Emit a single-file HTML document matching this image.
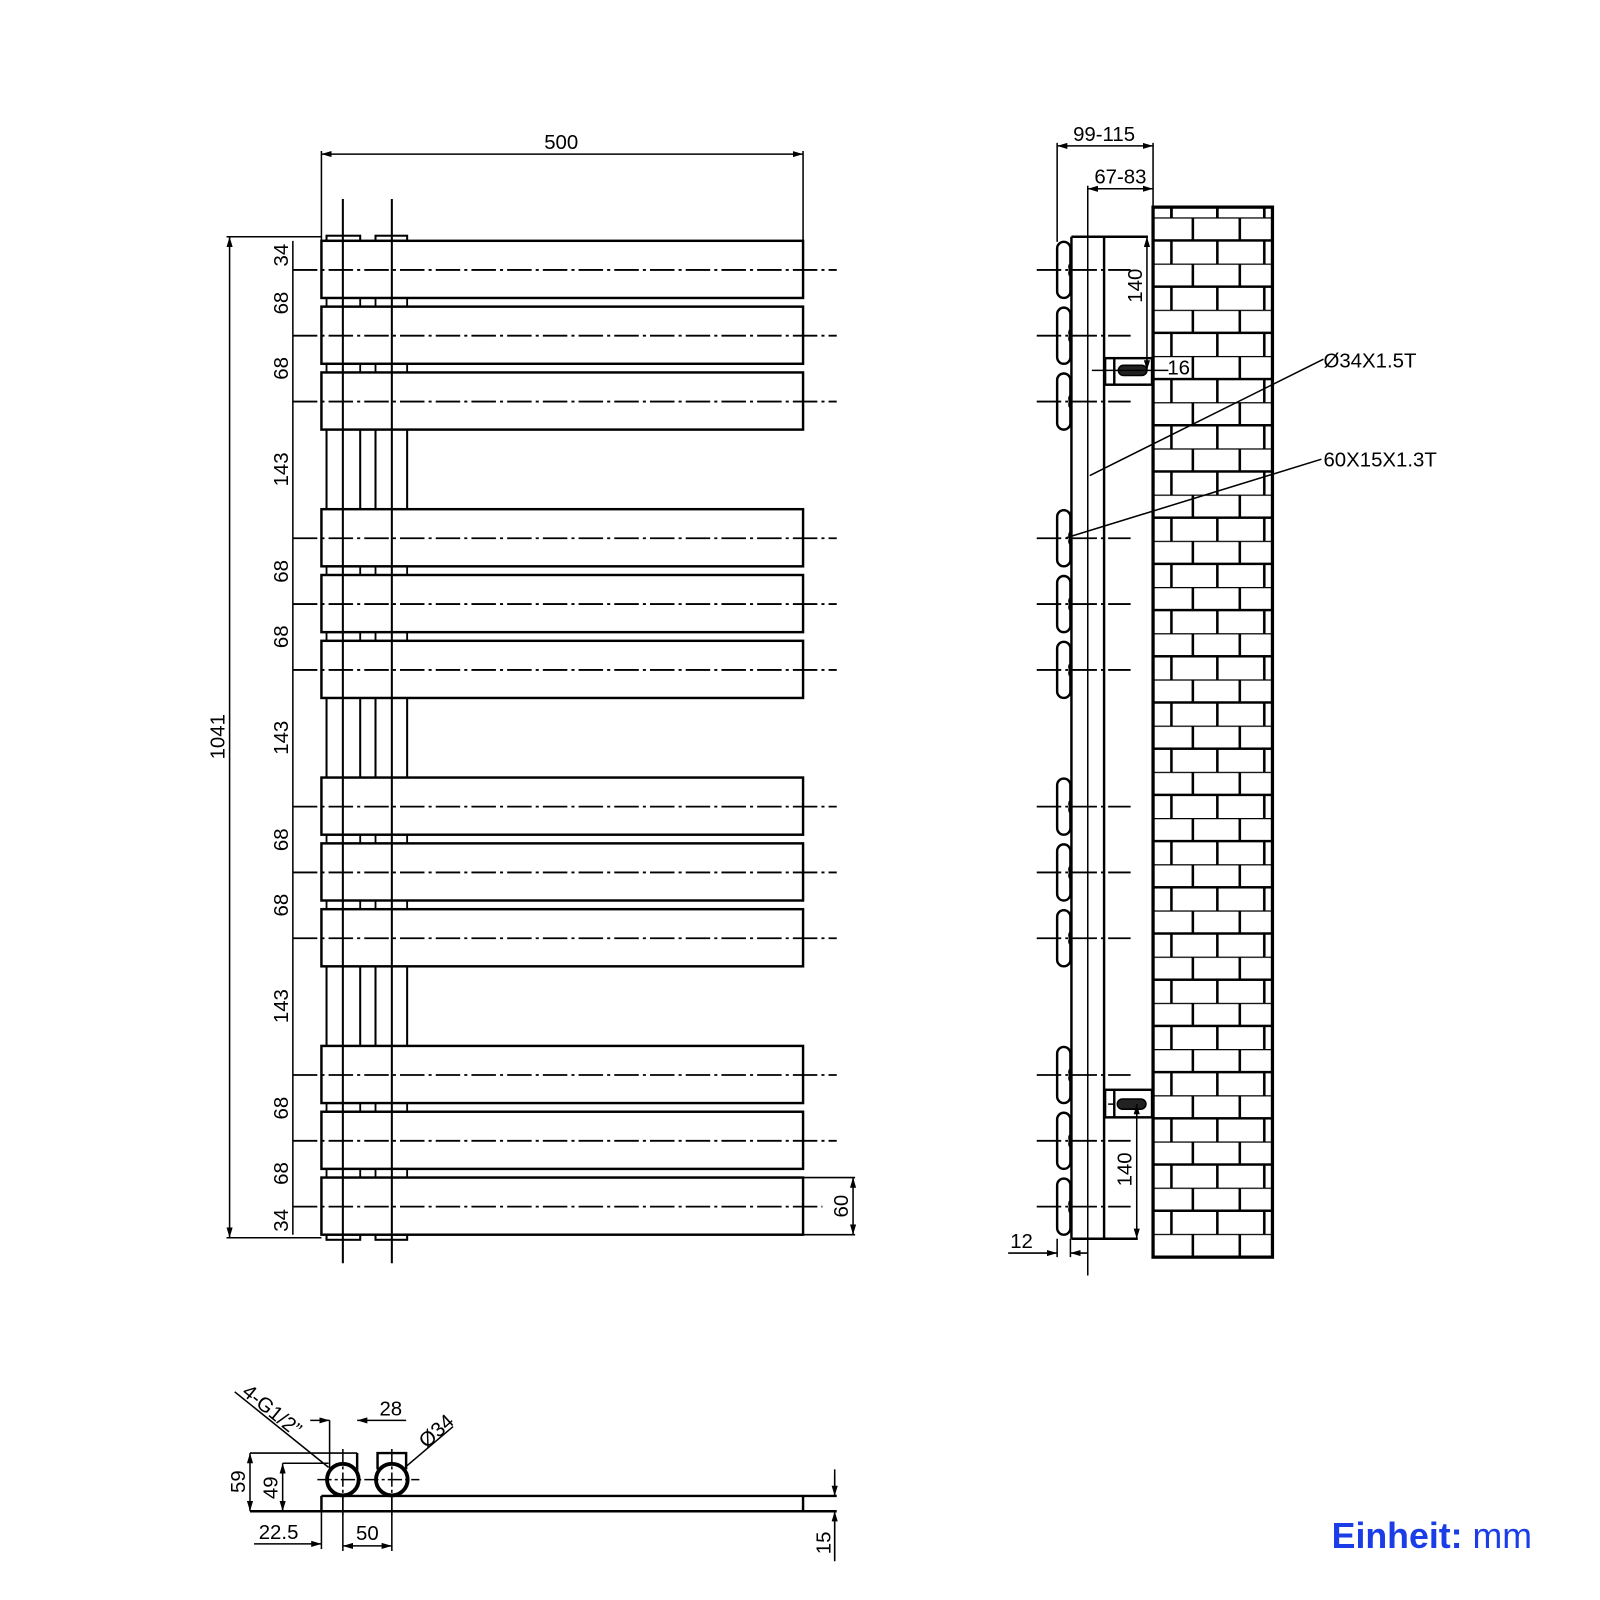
<!DOCTYPE html>
<html><head><meta charset="utf-8"><style>html,body{margin:0;padding:0;background:#fff}svg{display:block}</style></head>
<body>
<svg width="1600" height="1600" viewBox="0 0 1568 1568" xmlns="http://www.w3.org/2000/svg" font-family="Liberation Sans, sans-serif">
<defs>
<marker id="a" viewBox="0 0 10 6" refX="10" refY="3" markerWidth="10" markerHeight="6" orient="auto-start-reverse" markerUnits="userSpaceOnUse"><path d="M0,0 L10,3 L0,6z" fill="#000"/></marker>
<pattern id="brick" patternUnits="userSpaceOnUse" x="1130" y="213" width="117" height="45.28">
<g stroke="#000" stroke-width="2.5" fill="none">
<line x1="0" y1="0" x2="117" y2="0"/><line x1="0" y1="22.64" x2="117" y2="22.64"/>
<line x1="39" y1="0" x2="39" y2="22.64"/><line x1="85" y1="0" x2="85" y2="22.64"/>
<line x1="18" y1="22.64" x2="18" y2="45.28"/><line x1="63" y1="22.64" x2="63" y2="45.28"/><line x1="109" y1="22.64" x2="109" y2="45.28"/>
</g></pattern>
</defs>
<g fill="none" stroke="#000" stroke-width="2.4">
<g stroke-width="2">
<line x1="336" y1="195" x2="336" y2="1238"/><line x1="384" y1="195" x2="384" y2="1238"/>
<rect x="320" y="231" width="33" height="5"/><rect x="368" y="231" width="31" height="5"/>
<rect x="320" y="1210" width="33" height="5"/><rect x="368" y="1210" width="31" height="5"/>
</g>
<g id="grp">
<rect x="315" y="236" width="472" height="56"/>
<rect x="315" y="300.5" width="472" height="56"/>
<rect x="315" y="365" width="472" height="56"/>
<g stroke-width="1.8"><rect x="320" y="292" width="33" height="8.5"/><rect x="368" y="292" width="31" height="8.5"/>
<rect x="320" y="356.5" width="33" height="8.5"/><rect x="368" y="356.5" width="31" height="8.5"/></g>
</g>
<use href="#grp" y="263"/><use href="#grp" y="526"/><use href="#grp" y="789"/>
<g stroke-width="2">
<path d="M320,421V499M353,421V499M368,421V499M399,421V499"/>
<path d="M320,684V762M353,684V762M368,684V762M399,684V762"/>
<path d="M320,947V1025M353,947V1025M368,947V1025M399,947V1025"/>
</g>
<g stroke-width="1.8" stroke-dasharray="24 4 3 4">
<path d="M287,264.5H820M287,329H820M287,393.5H820M287,527.5H820M287,592H820M287,656.5H820M287,790.5H820M287,855H820M287,919.5H820M287,1053.5H820M287,1118H820M287,1182.5H806"/>
</g>
<g stroke-width="1.5">
<path d="M315,236V148M787,236V148"/>
<line x1="315" y1="151" x2="787" y2="151" marker-start="url(#a)" marker-end="url(#a)"/>
<path d="M222,232H315M222,1213H315"/>
<line x1="225" y1="232" x2="225" y2="1213" marker-start="url(#a)" marker-end="url(#a)"/>
<line x1="287" y1="236" x2="287" y2="1210"/>
<path d="M787,1154H838M787,1210H838"/>
<line x1="836" y1="1154" x2="836" y2="1210" marker-start="url(#a)" marker-end="url(#a)"/>
</g>
</g>
<g font-size="20" fill="#000">
<text x="550" y="146" text-anchor="middle">500</text>
<text transform="translate(220,722) rotate(-90)" text-anchor="middle">1041</text>
<g text-anchor="middle">
<text transform="translate(282,250) rotate(-90)">34</text>
<text transform="translate(282,297) rotate(-90)">68</text>
<text transform="translate(282,361) rotate(-90)">68</text>
<text transform="translate(282,460) rotate(-90)">143</text>
<text transform="translate(282,560) rotate(-90)">68</text>
<text transform="translate(282,624) rotate(-90)">68</text>
<text transform="translate(282,723) rotate(-90)">143</text>
<text transform="translate(282,823) rotate(-90)">68</text>
<text transform="translate(282,887) rotate(-90)">68</text>
<text transform="translate(282,986) rotate(-90)">143</text>
<text transform="translate(282,1086) rotate(-90)">68</text>
<text transform="translate(282,1150) rotate(-90)">68</text>
<text transform="translate(282,1196) rotate(-90)">34</text>
<text transform="translate(831,1182) rotate(-90)">60</text>
</g>
</g>

<rect x="1130" y="203" width="117" height="1029" fill="url(#brick)"/>
<g fill="none" stroke="#000">
<rect x="1130" y="203" width="117" height="1029" stroke-width="3.2"/>
<path d="M1148,203V213M1193,203V213M1239,203V213" stroke-width="2.5"/>
<g stroke-width="2.4">
<path d="M1050,232V1214M1082,232V1214M1050,232H1125M1050,1214H1115"/>
<rect x="1083" y="351" width="46" height="26" fill="#fff"/><line x1="1092" y1="351" x2="1092" y2="377"/>
<rect x="1083" y="1068" width="46" height="27" fill="#fff"/><line x1="1092" y1="1068" x2="1092" y2="1095"/>
</g>
<rect x="1096" y="358" width="28" height="10" rx="5" fill="#222" stroke-width="1.5"/>
<rect x="1095" y="1077" width="28" height="10" rx="5" fill="#222" stroke-width="1.5"/>
<g stroke-width="1.5">
<path d="M1036,237V140M1130,203V140M1066,1250V182"/>
<line x1="1036" y1="143" x2="1130" y2="143" marker-start="url(#a)" marker-end="url(#a)"/>
<line x1="1066" y1="185" x2="1130" y2="185" marker-start="url(#a)" marker-end="url(#a)"/>
<line x1="1124" y1="232" x2="1124" y2="363" marker-start="url(#a)" marker-end="url(#a)"/>
<line x1="1114" y1="1082" x2="1114" y2="1214" marker-start="url(#a)" marker-end="url(#a)"/>
<path d="M1070,363H1145M1086,1082H1092"/>
<path d="M1036,1214V1232M1049,1214V1232"/>
<line x1="988" y1="1228" x2="1036" y2="1228" marker-end="url(#a)"/>
<line x1="1066" y1="1228" x2="1049" y2="1228" marker-end="url(#a)"/>
<line x1="1068" y1="466" x2="1297" y2="352"/>
<line x1="1045" y1="527" x2="1295" y2="450"/>
</g>
<g id="lobes" stroke-width="2.4">
<path d="M1042.5,237a6.5,6.5 0 0 1 6.5,6.5v15q-2,3 0,6q-2,3 0,6v15a6.5,6.5 0 0 1 -13,0v-42a6.5,6.5 0 0 1 6.5,-6.5z"/>
<path d="M1042.5,301.5a6.5,6.5 0 0 1 6.5,6.5v15q-2,3 0,6q-2,3 0,6v15a6.5,6.5 0 0 1 -13,0v-42a6.5,6.5 0 0 1 6.5,-6.5z"/>
<path d="M1042.5,366a6.5,6.5 0 0 1 6.5,6.5v15q-2,3 0,6q-2,3 0,6v15a6.5,6.5 0 0 1 -13,0v-42a6.5,6.5 0 0 1 6.5,-6.5z"/>
</g>
<use href="#lobes" y="263"/><use href="#lobes" y="526"/><use href="#lobes" y="789"/>
<g stroke-width="1.8" stroke-dasharray="24 4 3 4">
<path d="M1016,264.5H1108M1016,329H1108M1016,393.5H1108M1016,527.5H1108M1016,592H1108M1016,656.5H1108M1016,790.5H1108M1016,855H1108M1016,919.5H1108M1016,1053.5H1108M1016,1118H1108M1016,1182.5H1108"/>
</g>
</g>
<g font-size="20" fill="#000">
<text x="1082" y="138" text-anchor="middle">99-115</text>
<text x="1098" y="180" text-anchor="middle">67-83</text>
<text transform="translate(1119,280) rotate(-90)" text-anchor="middle">140</text>
<text transform="translate(1109,1146) rotate(-90)" text-anchor="middle">140</text>
<text x="1144" y="367">16</text>
<text x="1297" y="360">Ø34X1.5T</text>
<text x="1297" y="457">60X15X1.3T</text>
<text x="990" y="1223">12</text>
</g>

<g fill="none" stroke="#000">
<g stroke-width="2.4">
<path d="M315,1466H820M245,1481H820M315,1466V1481M787,1466V1481"/>
<path d="M350,1424V1445M370,1440V1424H398V1440"/>
</g>
<circle cx="336" cy="1450" r="15.5" stroke-width="3.8" fill="#fff"/>
<circle cx="384" cy="1450" r="15.5" stroke-width="3.8" fill="#fff"/>
<g stroke-width="1.5">
<path d="M245,1424H350M277,1434H322M323,1392V1440"/>
<line x1="245" y1="1424" x2="245" y2="1481" marker-start="url(#a)" marker-end="url(#a)"/>
<line x1="277" y1="1434" x2="277" y2="1481" marker-start="url(#a)" marker-end="url(#a)"/>
<path d="M315,1481V1518M336,1466V1520M384,1466V1520"/>
<line x1="249" y1="1513" x2="315" y2="1513" marker-end="url(#a)"/>
<line x1="336" y1="1515" x2="384" y2="1515" marker-start="url(#a)" marker-end="url(#a)"/>
<line x1="304" y1="1392" x2="323" y2="1392" marker-end="url(#a)"/>
<line x1="398" y1="1392" x2="350" y2="1392" marker-end="url(#a)"/>
<path d="M818,1440V1466M818,1481V1530"/>
<line x1="818" y1="1447" x2="818" y2="1466" marker-end="url(#a)"/>
<line x1="818" y1="1528" x2="818" y2="1481" marker-end="url(#a)"/>
<line x1="230" y1="1364" x2="322" y2="1438"/>
<line x1="444" y1="1398" x2="397" y2="1438"/>
</g>
<g stroke-width="1.5" stroke-dasharray="14 3 3 3">
<path d="M311,1450H411M336,1420V1485M384,1420V1485"/>
</g>
</g>
<g font-size="20" fill="#000">
<text transform="translate(240,1452) rotate(-90)" text-anchor="middle">59</text>
<text transform="translate(272,1458) rotate(-90)" text-anchor="middle">49</text>
<text x="273" y="1508" text-anchor="middle">22.5</text>
<text x="360" y="1509" text-anchor="middle">50</text>
<text x="383" y="1387" text-anchor="middle">28</text>
<text transform="translate(814,1512) rotate(-90)" text-anchor="middle">15</text>
<text transform="translate(236,1366) rotate(39)">4-G1/2”</text>
<text transform="translate(418,1420) rotate(-42)">Ø34</text>
</g>
<text x="1305" y="1517" font-size="35" fill="#1a3de8"><tspan font-weight="bold">Einheit:</tspan> mm</text>
</svg>
</body></html>
